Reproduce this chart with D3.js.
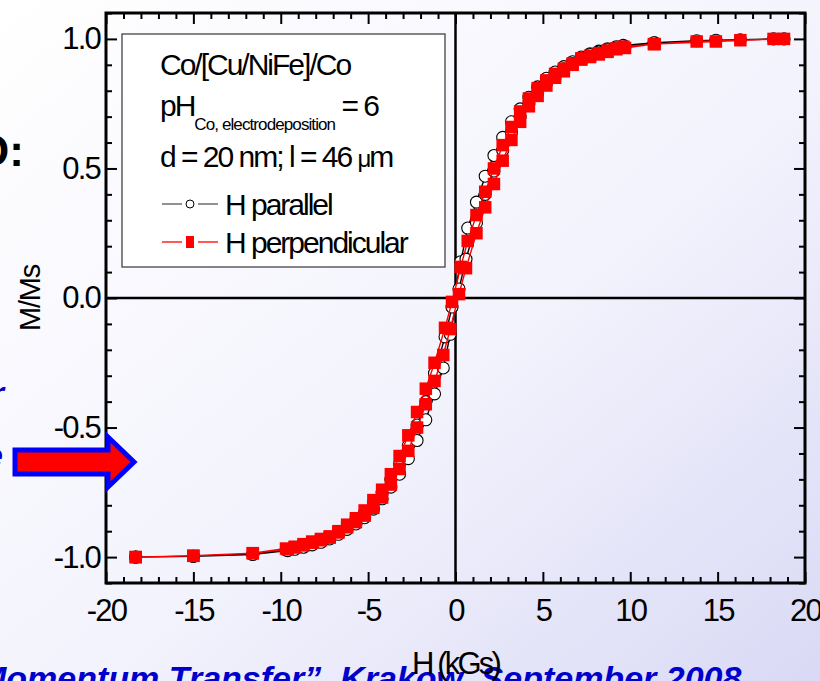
<!DOCTYPE html>
<html>
<head>
<meta charset="utf-8">
<script src="https://cdn.jsdelivr.net/npm/d3@7"></script>
<style>
  html, body { margin: 0; padding: 0; overflow: hidden; }
  svg { display: block; font-family: "Liberation Sans", Arial, sans-serif; }
</style>
</head>
<body>
<svg id="chart" width="820" height="681"></svg>
<script>
// Hysteresis loops M/Ms vs H (kGs), Co/[Cu/NiFe]/Co wires.
// Each series is measured as a descending-field branch then an ascending-field branch.

// H parallel — descending branch
const parDownH = [18.8, 16.3, 13.8, 11.4, 9.6, 9.2, 8.7, 8.2, 7.7, 7.2, 6.7, 6.2, 5.7, 5.2, 4.7, 4.2, 3.7, 3.2, 2.7, 2.2, 1.7, 1.2, 0.7, 0.3,
  -0.2, -0.6, -1.2, -1.7, -2.2, -2.7, -3.2, -3.7, -4.2, -4.7, -5.2, -5.7, -6.2, -6.7, -7.2, -7.7, -8.2, -8.7, -9.2, -9.7, -11.6, -15.0, -18.3];
const parDownM = [1.0, 0.997, 0.993, 0.985, 0.975, 0.97, 0.962, 0.953, 0.943, 0.93, 0.912, 0.893, 0.872, 0.848, 0.815, 0.775, 0.73, 0.68, 0.62, 0.55, 0.47, 0.37, 0.27, 0.14,
  -0.035, -0.15, -0.29, -0.40, -0.49, -0.57, -0.64, -0.70, -0.75, -0.79, -0.83, -0.86, -0.885, -0.905, -0.925, -0.94, -0.95, -0.958, -0.965, -0.972, -0.988, -0.997, -1.0];
// H parallel — ascending branch
const parUpH = [-18.3, -15.0, -11.6, -9.6, -9.2, -8.7, -8.2, -7.7, -7.2, -6.7, -6.2, -5.7, -5.2, -4.7, -4.2, -3.7, -3.2, -2.7, -2.2, -1.7, -1.2, -0.7, -0.3,
  0.2, 0.6, 1.2, 1.7, 2.2, 2.7, 3.2, 3.7, 4.2, 4.7, 5.2, 5.7, 6.2, 6.7, 7.2, 7.7, 8.2, 8.7, 9.2, 9.7, 11.35, 14.9, 18.2];
const parUpM = [-1.0, -0.997, -0.99, -0.975, -0.97, -0.962, -0.953, -0.943, -0.93, -0.912, -0.893, -0.872, -0.848, -0.815, -0.775, -0.73, -0.68, -0.62, -0.55, -0.47, -0.37, -0.27, -0.14,
  0.035, 0.15, 0.29, 0.40, 0.49, 0.57, 0.64, 0.70, 0.75, 0.79, 0.83, 0.86, 0.885, 0.905, 0.925, 0.94, 0.95, 0.958, 0.965, 0.97, 0.985, 0.995, 1.0];

// H perpendicular — descending branch
const perpDownH = [18.8, 16.3, 13.8, 11.4, 9.6, 9.2, 8.7, 8.2, 7.7, 7.2, 6.7, 6.2, 5.7, 5.2, 4.7, 4.2, 3.7, 3.2, 2.7, 2.2, 1.7, 1.2, 0.7, 0.3,
  -0.2, -0.6, -1.2, -1.7, -2.2, -2.7, -3.2, -3.7, -4.2, -4.7, -5.2, -5.7, -6.2, -6.7, -7.2, -7.7, -8.2, -8.7, -9.2, -9.7, -11.6, -15.0, -18.3];
const perpDownM = [1.0, 0.995, 0.99, 0.98, 0.97, 0.963, 0.955, 0.945, 0.935, 0.925, 0.905, 0.885, 0.865, 0.84, 0.81, 0.77, 0.72, 0.66, 0.59, 0.50, 0.41, 0.32, 0.22, 0.12,
  -0.015, -0.115, -0.25, -0.35, -0.44, -0.53, -0.61, -0.68, -0.74, -0.78, -0.82, -0.85, -0.875, -0.90, -0.92, -0.93, -0.94, -0.95, -0.96, -0.967, -0.985, -0.995, -1.0];
// H perpendicular — ascending branch
const perpUpH = [-18.3, -15.0, -11.6, -9.6, -9.2, -8.7, -8.2, -7.7, -7.2, -6.7, -6.2, -5.7, -5.2, -4.7, -4.2, -3.7, -3.2, -2.7, -2.2, -1.7, -1.2, -0.7, -0.3,
  0.2, 0.6, 1.2, 1.7, 2.2, 2.7, 3.2, 3.7, 4.2, 4.7, 5.2, 5.7, 6.2, 6.7, 7.2, 7.7, 8.2, 8.7, 9.2, 9.7, 11.35, 14.9, 18.2];
const perpUpM = [-1.0, -0.995, -0.985, -0.97, -0.963, -0.955, -0.945, -0.935, -0.925, -0.905, -0.885, -0.865, -0.84, -0.81, -0.77, -0.72, -0.66, -0.59, -0.50, -0.41, -0.32, -0.22, -0.12,
  0.015, 0.115, 0.25, 0.35, 0.44, 0.53, 0.61, 0.68, 0.74, 0.78, 0.82, 0.85, 0.875, 0.90, 0.92, 0.93, 0.94, 0.95, 0.96, 0.965, 0.98, 0.99, 1.0];

const xMajorTicks = [-20, -15, -10, -5, 0, 5, 10, 15, 20];
const yMajorTicks = [-1.0, -0.5, 0.0, 0.5, 1.0];
const xMinorTicks = [-19,-18,-17,-16,-14,-13,-12,-11,-9,-8,-7,-6,-4,-3,-2,-1,1,2,3,4,6,7,8,9,11,12,13,14,16,17,18,19];
const yMinorTicks = [-1.1,-0.9,-0.8,-0.7,-0.6,-0.4,-0.3,-0.2,-0.1,0.1,0.2,0.3,0.4,0.6,0.7,0.8,0.9,1.1];

const legendTitle = "Co/[Cu/NiFe]/Co";
const legendSeries = ["H parallel", "H perpendicular"];

// ---------------------------------------------------------------
const W = 820, H = 681;
const svg = d3.select("#chart");
const defs = svg.append("defs");

const bg = defs.append("linearGradient").attr("id", "bg")
  .attr("x1", 0).attr("y1", 0).attr("x2", 1).attr("y2", 1);
bg.append("stop").attr("offset", "0%").attr("stop-color", "#ffffff");
bg.append("stop").attr("offset", "55%").attr("stop-color", "#f3f3fd");
bg.append("stop").attr("offset", "100%").attr("stop-color", "#d9d9f5");
svg.append("rect").attr("width", W).attr("height", H).attr("fill", "url(#bg)");

// Slide text around the chart
const slide = svg.append("g");
slide.append("text").attr("x", 24).attr("y", 166).attr("text-anchor", "end")
  .attr("font-size", 44).attr("font-weight", "bold").attr("fill", "#000").text("O:");
slide.append("text").attr("x", 4).attr("y", 405).attr("text-anchor", "end")
  .attr("font-size", 34).attr("font-weight", "bold").attr("font-style", "italic").attr("fill", "#0000cc").text("r");
slide.append("text").attr("x", 3).attr("y", 467).attr("text-anchor", "end")
  .attr("font-size", 34).attr("font-weight", "bold").attr("font-style", "italic").attr("fill", "#0000cc").text("e");
slide.append("text").attr("x", -22).attr("y", 690)
  .attr("font-size", 34).attr("font-weight", "bold").attr("font-style", "italic").attr("fill", "#0000cc")
  .text("Momentum Transfer\u201d, Krakow, September 2008");

// Plot area bounds
const pL = 106, pR = 805, pT = 13, pB = 583;
const x = d3.scaleLinear().domain([-20, 20]).range([pL, pR]);
const y = d3.scaleLinear().domain([-1.1, 1.1]).range([pB, pT]);

const plot = svg.append("g");

function styleAxis(g) {
  g.select(".domain").remove();
  g.selectAll(".tick line").attr("stroke", "#000").attr("stroke-width", 2);
}

// zero lines
plot.append("line").attr("x1", x(0)).attr("x2", x(0)).attr("y1", pT).attr("y2", pB)
  .attr("stroke", "#000").attr("stroke-width", 2.5);
plot.append("line").attr("x1", pL).attr("x2", pR).attr("y1", y(0)).attr("y2", y(0))
  .attr("stroke", "#000").attr("stroke-width", 2.5);

// major axes with labels
const axB = plot.append("g").attr("transform", `translate(0,${pB})`)
  .call(d3.axisBottom(x).tickValues(xMajorTicks).tickSizeInner(-11).tickSizeOuter(0).tickPadding(16)
    .tickFormat(d => String(d)));
const axL = plot.append("g").attr("transform", `translate(${pL},0)`)
  .call(d3.axisLeft(y).tickValues(yMajorTicks).tickSizeInner(-11).tickSizeOuter(0).tickPadding(6)
    .tickFormat(d => d.toFixed(1)));
[axB, axL].forEach(g => {
  styleAxis(g);
  g.selectAll("text").attr("font-family", '"Liberation Sans", Arial, sans-serif')
    .attr("font-size", 31).attr("letter-spacing", "-1.8px").attr("fill", "#000");
});

// mirrored and minor ticks
plot.append("g").attr("transform", `translate(0,${pT})`)
  .call(d3.axisTop(x).tickValues(xMajorTicks).tickSizeInner(-11).tickFormat("")).call(styleAxis);
plot.append("g").attr("transform", `translate(${pR},0)`)
  .call(d3.axisRight(y).tickValues(yMajorTicks).tickSizeInner(-11).tickFormat("")).call(styleAxis);
plot.append("g").attr("transform", `translate(0,${pB})`)
  .call(d3.axisBottom(x).tickValues(xMinorTicks).tickSizeInner(-6).tickFormat("")).call(styleAxis);
plot.append("g").attr("transform", `translate(0,${pT})`)
  .call(d3.axisTop(x).tickValues(xMinorTicks).tickSizeInner(-6).tickFormat("")).call(styleAxis);
plot.append("g").attr("transform", `translate(${pL},0)`)
  .call(d3.axisLeft(y).tickValues(yMinorTicks).tickSizeInner(-6).tickFormat("")).call(styleAxis);
plot.append("g").attr("transform", `translate(${pR},0)`)
  .call(d3.axisRight(y).tickValues(yMinorTicks).tickSizeInner(-6).tickFormat("")).call(styleAxis);

// frame
plot.append("rect").attr("x", pL).attr("y", pT).attr("width", pR - pL).attr("height", pB - pT)
  .attr("fill", "none").attr("stroke", "#000").attr("stroke-width", 3);

// axis titles
svg.append("text").attr("transform", `translate(40,${y(0)}) rotate(-90)`).attr("text-anchor", "middle")
  .attr("font-size", 29).attr("letter-spacing", "-1.2px").attr("fill", "#000").text("M/Ms");
svg.append("text").attr("x", x(0)).attr("y", 674).attr("text-anchor", "middle")
  .attr("font-size", 31).attr("letter-spacing", "-2.8px").attr("fill", "#000").text("H (kGs)");

// legend
const lg = svg.append("g");
lg.append("rect").attr("x", 122).attr("y", 34).attr("width", 323).attr("height", 233)
  .attr("fill", "#ffffff").attr("stroke", "#444").attr("stroke-width", 1.3);
const lgText = (yy, xx) => lg.append("text").attr("x", xx).attr("y", yy)
  .attr("font-size", 30).attr("letter-spacing", "-2px").attr("fill", "#000");
lgText(75, 160).text(legendTitle);
const ph = lgText(116, 160);
ph.append("tspan").text("pH");
ph.append("tspan").attr("font-size", 17).attr("letter-spacing", "-0.9px").attr("dy", 14).text("Co, electrodeposition");
ph.append("tspan").attr("dy", -14).text(" = 6");
const dl = lgText(167, 160);
dl.append("tspan").text("d = 20 nm; l = 46 ");
dl.append("tspan").attr("font-size", 24).text("\u03bc");
dl.append("tspan").text("m");

const lgRows = [
  { y: 204, color: "#555", label: legendSeries[0], marker: "circle" },
  { y: 242, color: "#ff0000", label: legendSeries[1], marker: "square" },
];
lgRows.forEach(r => {
  lg.append("line").attr("x1", 162).attr("x2", 182).attr("y1", r.y).attr("y2", r.y)
    .attr("stroke", r.color).attr("stroke-width", 1.3);
  lg.append("line").attr("x1", 198).attr("x2", 218).attr("y1", r.y).attr("y2", r.y)
    .attr("stroke", r.color).attr("stroke-width", 1.3);
  if (r.marker === "circle") {
    lg.append("circle").attr("cx", 190).attr("cy", r.y).attr("r", 4)
      .attr("fill", "#fff").attr("stroke", "#000").attr("stroke-width", 1);
  } else {
    lg.append("rect").attr("x", 186).attr("y", r.y - 6).attr("width", 8).attr("height", 12)
      .attr("fill", "#ff0000");
  }
  lgText(r.y + 11, 225).text(r.label);
});

// data series
const toPts = (hs, ms) => hs.map((h, i) => ({ h: h, m: ms[i] }));
const parPts = toPts(parDownH, parDownM).concat(toPts(parUpH, parUpM));
const perpPts = toPts(perpDownH, perpDownM).concat(toPts(perpUpH, perpUpM));
const line = d3.line().x(d => x(d.h)).y(d => y(d.m));

const data = svg.append("g");
data.append("path").attr("d", line(parPts)).attr("fill", "none")
  .attr("stroke", "#000").attr("stroke-width", 1.4);
data.selectAll("circle.par").data(parPts).join("circle").attr("class", "par")
  .attr("cx", d => x(d.h)).attr("cy", d => y(d.m)).attr("r", 6)
  .attr("fill", "#fff").attr("stroke", "#000").attr("stroke-width", 1.1);

data.append("path").attr("d", line(perpPts)).attr("fill", "none")
  .attr("stroke", "#ff0000").attr("stroke-width", 1.4);
const sq = 12.5;
data.selectAll("rect.perp").data(perpPts).join("rect").attr("class", "perp")
  .attr("x", d => x(d.h) - sq / 2).attr("y", d => y(d.m) - sq / 2)
  .attr("width", sq).attr("height", sq).attr("fill", "#ff0000");

// arrow pointing into the plot
svg.append("polygon")
  .attr("points", [[15, 450], [108, 450], [108, 437], [134, 462], [108, 487], [108, 474], [15, 474]].join(" "))
  .attr("fill", "#ff0000").attr("stroke", "#0000ff").attr("stroke-width", 5).attr("stroke-linejoin", "miter");
</script>
</body>
</html>
